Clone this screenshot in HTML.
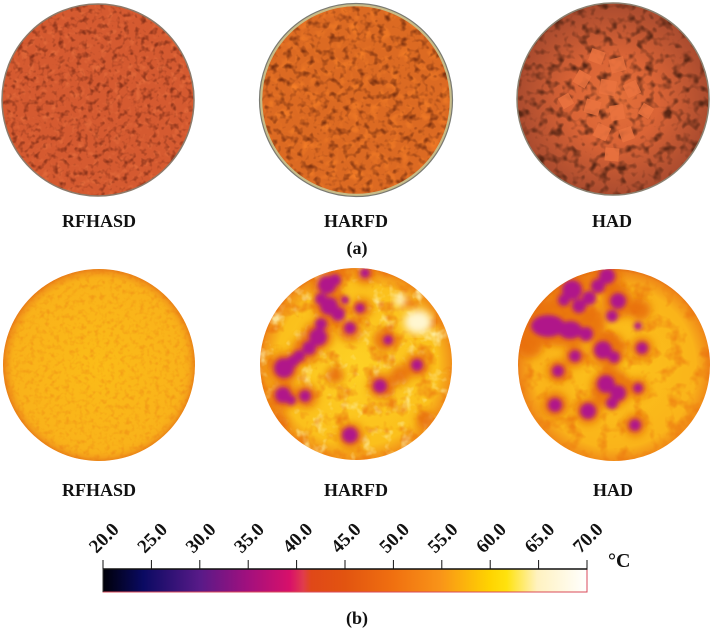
<!DOCTYPE html>
<html><head><meta charset="utf-8"><style>
html,body{margin:0;padding:0;background:#fff;}
svg{display:block;}
text{font-family:"Liberation Serif",serif;font-weight:bold;fill:#111;}
</style></head><body>
<svg width="713" height="632" viewBox="0 0 713 632" xmlns="http://www.w3.org/2000/svg">
<defs>
  <clipPath id="cA1"><circle cx="98" cy="100" r="96"/></clipPath>
  <clipPath id="cA2"><circle cx="356" cy="100" r="96"/></clipPath>
  <clipPath id="cA3"><circle cx="613" cy="99" r="96"/></clipPath>
  <clipPath id="cB1"><circle cx="99" cy="365" r="96"/></clipPath>
  <clipPath id="cB2"><circle cx="356" cy="364" r="96"/></clipPath>
  <clipPath id="cB3"><circle cx="614" cy="365" r="96"/></clipPath>

  <filter id="dark1" x="0" y="0" width="100%" height="100%" color-interpolation-filters="sRGB">
    <feTurbulence type="fractalNoise" baseFrequency="0.17" numOctaves="2" seed="4"/>
    <feColorMatrix type="matrix" values="0 0 0 0 0.55  0 0 0 0 0.2  0 0 0 0 0.1  -3.0 0 0 0 1.5"/>
  </filter>
  <filter id="lite1" x="0" y="0" width="100%" height="100%" color-interpolation-filters="sRGB">
    <feTurbulence type="fractalNoise" baseFrequency="0.14" numOctaves="2" seed="9"/>
    <feColorMatrix type="matrix" values="0 0 0 0 0.92  0 0 0 0 0.45  0 0 0 0 0.25  2.2 0 0 0 -1.2"/>
  </filter>
  <filter id="dark2" x="0" y="0" width="100%" height="100%" color-interpolation-filters="sRGB">
    <feTurbulence type="fractalNoise" baseFrequency="0.14" numOctaves="2" seed="7"/>
    <feColorMatrix type="matrix" values="0 0 0 0 0.5  0 0 0 0 0.2  0 0 0 0 0.06  -2.8 0 0 0 1.42"/>
  </filter>
  <filter id="lite2" x="0" y="0" width="100%" height="100%" color-interpolation-filters="sRGB">
    <feTurbulence type="fractalNoise" baseFrequency="0.1" numOctaves="2" seed="12"/>
    <feColorMatrix type="matrix" values="0 0 0 0 0.97  0 0 0 0 0.5  0 0 0 0 0.15  2.4 0 0 0 -1.25"/>
  </filter>
  <filter id="dark3" x="0" y="0" width="100%" height="100%" color-interpolation-filters="sRGB">
    <feTurbulence type="fractalNoise" baseFrequency="0.11" numOctaves="2" seed="21"/>
    <feColorMatrix type="matrix" values="0 0 0 0 0.35  0 0 0 0 0.15  0 0 0 0 0.08  -3.0 0 0 0 1.55"/>
  </filter>
  <filter id="spkT" x="0" y="0" width="100%" height="100%" color-interpolation-filters="sRGB">
    <feTurbulence type="fractalNoise" baseFrequency="0.2" numOctaves="2" seed="5"/>
    <feColorMatrix type="matrix" values="0 0 0 0 0.93  0 0 0 0 0.52  0 0 0 0 0.08  -2.8 0 0 0 1.45"/>
  </filter>
  <filter id="motT" x="0" y="0" width="100%" height="100%" color-interpolation-filters="sRGB">
    <feTurbulence type="fractalNoise" baseFrequency="0.06" numOctaves="3" seed="17"/>
    <feColorMatrix type="matrix" values="0 0 0 0 0.92  0 0 0 0 0.45  0 0 0 0 0.06  -3.2 0 0 0 1.6"/>
  </filter>
  <filter id="whtT" x="0" y="0" width="100%" height="100%" color-interpolation-filters="sRGB">
    <feTurbulence type="fractalNoise" baseFrequency="0.07" numOctaves="3" seed="33"/>
    <feColorMatrix type="matrix" values="0 0 0 0 1  0 0 0 0 0.96  0 0 0 0 0.7  3.2 0 0 0 -1.75"/>
  </filter>
  <filter id="blur2"><feGaussianBlur stdDeviation="2"/></filter>
  <filter id="blur4"><feGaussianBlur stdDeviation="4"/></filter>

  <radialGradient id="gA3" cx="0.5" cy="0.5" r="0.5">
    <stop offset="0" stop-color="#e4703a"/>
    <stop offset="0.45" stop-color="#da6436"/>
    <stop offset="1" stop-color="#a84a2e"/>
  </radialGradient>
  <radialGradient id="gB1" cx="0.5" cy="0.5" r="0.5">
    <stop offset="0" stop-color="#fbbc18"/>
    <stop offset="0.88" stop-color="#f9b21a"/>
    <stop offset="0.965" stop-color="#f0901a"/>
    <stop offset="1" stop-color="#d85c12"/>
  </radialGradient>
  <radialGradient id="gB2" cx="0.5" cy="0.5" r="0.5">
    <stop offset="0" stop-color="#fdd024"/>
    <stop offset="0.8" stop-color="#fbc01c"/>
    <stop offset="0.94" stop-color="#f19018"/>
    <stop offset="1" stop-color="#dc5c10"/>
  </radialGradient>
  <radialGradient id="gB3" cx="0.5" cy="0.5" r="0.5">
    <stop offset="0" stop-color="#fcc41c"/>
    <stop offset="0.8" stop-color="#fab41a"/>
    <stop offset="0.94" stop-color="#f08a18"/>
    <stop offset="1" stop-color="#d85a12"/>
  </radialGradient>
  <linearGradient id="cbar" x1="0" x2="1" y1="0" y2="0">
    <stop offset="0" stop-color="#000008"/>
    <stop offset="0.083" stop-color="#0a0a62"/>
    <stop offset="0.2" stop-color="#581a88"/>
    <stop offset="0.297" stop-color="#a0107e"/>
    <stop offset="0.386" stop-color="#d8106a"/>
    <stop offset="0.414" stop-color="#e03c4c"/>
    <stop offset="0.43" stop-color="#e04818"/>
    <stop offset="0.5" stop-color="#e25410"/>
    <stop offset="0.6" stop-color="#f07010"/>
    <stop offset="0.697" stop-color="#f99418"/>
    <stop offset="0.8" stop-color="#ffd400"/>
    <stop offset="0.834" stop-color="#ffe20e"/>
    <stop offset="0.897" stop-color="#fff2c0"/>
    <stop offset="1" stop-color="#ffffff"/>
  </linearGradient>
</defs>

<!-- (a) photos -->
<g clip-path="url(#cA1)">
  <rect x="0" y="2" width="196" height="198" fill="#d55a30"/>
  <rect x="0" y="2" width="196" height="198" filter="url(#lite1)"/>
  <rect x="0" y="2" width="196" height="198" filter="url(#dark1)"/>
</g>
<circle cx="98" cy="100" r="96" fill="none" stroke="#8c7a6a" stroke-width="1.5"/>

<g clip-path="url(#cA2)">
  <rect x="258" y="2" width="198" height="198" fill="#dc6a22"/>
  <rect x="258" y="2" width="198" height="198" filter="url(#lite2)"/>
  <rect x="258" y="2" width="198" height="198" filter="url(#dark2)"/>
</g>
<circle cx="356" cy="100" r="95" fill="none" stroke="#c8bc88" stroke-width="2.5"/>
<circle cx="356" cy="100" r="96.5" fill="none" stroke="#7a7a72" stroke-width="1.2"/>

<g clip-path="url(#cA3)">
  <rect x="515" y="2" width="198" height="196" fill="url(#gA3)"/>
  <rect x="515" y="2" width="198" height="196" filter="url(#dark3)"/>
  <g fill="#ea7440" opacity="0.85">
    <rect x="590" y="50" width="14" height="13" transform="rotate(20 597 56)"/>
    <rect x="610" y="58" width="15" height="14" transform="rotate(-15 617 65)"/>
    <rect x="575" y="72" width="14" height="14" transform="rotate(30 582 79)"/>
    <rect x="600" y="80" width="16" height="15" transform="rotate(10 608 87)"/>
    <rect x="625" y="82" width="14" height="14" transform="rotate(-25 632 89)"/>
    <rect x="585" y="100" width="15" height="14" transform="rotate(15 592 107)"/>
    <rect x="610" y="105" width="14" height="15" transform="rotate(-10 617 112)"/>
    <rect x="595" y="125" width="14" height="14" transform="rotate(25 602 132)"/>
    <rect x="620" y="128" width="13" height="13" transform="rotate(-20 626 134)"/>
    <rect x="605" y="148" width="14" height="13" transform="rotate(5 612 154)"/>
    <rect x="560" y="95" width="12" height="12" transform="rotate(-30 566 101)"/>
    <rect x="640" y="105" width="12" height="12" transform="rotate(30 646 111)"/>
  </g>
</g>
<circle cx="613" cy="99" r="96" fill="none" stroke="#8a8070" stroke-width="1.5"/>

<text x="99" y="227" font-size="18" text-anchor="middle">RFHASD</text>
<text x="356" y="227" font-size="18" text-anchor="middle">HARFD</text>
<text x="612" y="227" font-size="18" text-anchor="middle">HAD</text>
<text x="357" y="254" font-size="18" text-anchor="middle">(a)</text>

<!-- (b) thermal -->
<g clip-path="url(#cB1)">
  <rect x="0" y="266" width="200" height="200" fill="url(#gB1)"/>
  <rect x="0" y="266" width="200" height="200" filter="url(#spkT)" opacity="0.7"/>
  <circle cx="99" cy="365" r="96" fill="url(#gB1)" opacity="0.3"/>
</g>

<g clip-path="url(#cB2)">
  <rect x="256" y="264" width="202" height="202" fill="url(#gB2)"/>
  <rect x="256" y="264" width="202" height="202" filter="url(#whtT)" opacity="0.8"/>
  <rect x="256" y="264" width="202" height="202" filter="url(#motT)" opacity="0.75"/>
  <g filter="url(#blur4)" fill="#fff6d0">
    <ellipse cx="418" cy="322" rx="14" ry="12"/>
    <circle cx="400" cy="300" r="6"/>
  </g>
  <g filter="url(#blur4)" fill="#e8700e" opacity="0.9">
    <circle cx="327" cy="287" r="15"/>
    <circle cx="330" cy="308" r="16"/>
    <circle cx="318" cy="336" r="15"/>
    <circle cx="306" cy="350" r="14"/>
    <circle cx="284" cy="368" r="16"/>
    <circle cx="283" cy="396" r="14"/>
    <circle cx="306" cy="396" r="12"/>
    <circle cx="350" cy="330" r="12"/>
    <circle cx="351" cy="436" r="13"/>
    <circle cx="381" cy="386" r="13"/>
    <circle cx="362" cy="308" r="10"/>
    <circle cx="385" cy="340" r="12"/>
    <circle cx="417" cy="365" r="12"/>
    <circle cx="400" cy="375" r="10"/>
    <circle cx="275" cy="425" r="13"/>
    <circle cx="365" cy="275" r="9"/>
    <circle cx="335" cy="375" r="9"/>
    <circle cx="425" cy="420" r="9"/>
  </g>
  <g filter="url(#blur2)" fill="#b0128a">
    <circle cx="327" cy="285" r="9"/>
    <circle cx="335" cy="280" r="6"/>
    <circle cx="321" cy="299" r="6"/>
    <circle cx="329" cy="306" r="9"/>
    <circle cx="338" cy="314" r="7"/>
    <circle cx="321" cy="324" r="6"/>
    <circle cx="318" cy="337" r="9"/>
    <circle cx="309" cy="348" r="7"/>
    <circle cx="299" cy="356" r="6"/>
    <circle cx="284" cy="368" r="10"/>
    <circle cx="293" cy="361" r="6"/>
    <circle cx="283" cy="395" r="8"/>
    <circle cx="291" cy="400" r="5"/>
    <circle cx="305" cy="396" r="6"/>
    <circle cx="350" cy="328" r="6"/>
    <circle cx="350" cy="435" r="8"/>
    <circle cx="380" cy="386" r="7"/>
    <circle cx="360" cy="308" r="5"/>
    <circle cx="417" cy="365" r="6"/>
    <circle cx="365" cy="273" r="5"/>
    <circle cx="388" cy="340" r="5"/>
    <circle cx="345" cy="300" r="4"/>
  </g>
</g>

<g clip-path="url(#cB3)">
  <rect x="514" y="266" width="202" height="202" fill="url(#gB3)"/>
  <rect x="514" y="266" width="202" height="202" filter="url(#motT)" opacity="0.7"/>
  <g filter="url(#blur4)" fill="#e8700e" opacity="0.9">
    <ellipse cx="562" cy="322" rx="44" ry="24"/>
    <circle cx="572" cy="290" r="18"/>
    <circle cx="605" cy="278" r="16"/>
    <circle cx="618" cy="302" r="16"/>
    <circle cx="608" cy="350" r="18"/>
    <circle cx="611" cy="388" r="20"/>
    <circle cx="558" cy="371" r="11"/>
    <circle cx="555" cy="405" r="13"/>
    <circle cx="588" cy="411" r="13"/>
    <circle cx="635" cy="425" r="11"/>
    <circle cx="642" cy="348" r="11"/>
    <circle cx="638" cy="388" r="10"/>
    <circle cx="575" cy="356" r="11"/>
    <circle cx="530" cy="345" r="13"/>
    <circle cx="640" cy="310" r="11"/>
  </g>
  <g filter="url(#blur2)" fill="#b0128a">
    <ellipse cx="548" cy="326" rx="17" ry="11"/>
    <ellipse cx="570" cy="330" rx="12" ry="9"/>
    <circle cx="586" cy="334" r="7"/>
    <circle cx="572" cy="290" r="10"/>
    <circle cx="564" cy="300" r="6"/>
    <circle cx="579" cy="306" r="7"/>
    <circle cx="589" cy="298" r="7"/>
    <circle cx="598" cy="286" r="7"/>
    <circle cx="607" cy="276" r="8"/>
    <circle cx="618" cy="301" r="8"/>
    <circle cx="612" cy="316" r="6"/>
    <circle cx="603" cy="350" r="9"/>
    <circle cx="614" cy="357" r="6"/>
    <circle cx="606" cy="384" r="9"/>
    <circle cx="618" cy="393" r="8"/>
    <circle cx="612" cy="403" r="6"/>
    <circle cx="558" cy="371" r="6"/>
    <circle cx="555" cy="405" r="7"/>
    <circle cx="588" cy="411" r="8"/>
    <circle cx="635" cy="425" r="6"/>
    <circle cx="642" cy="348" r="6"/>
    <circle cx="638" cy="388" r="5"/>
    <circle cx="575" cy="356" r="6"/>
    <circle cx="638" cy="326" r="4"/>
  </g>
</g>

<text x="99" y="496" font-size="18" text-anchor="middle">RFHASD</text>
<text x="356" y="496" font-size="18" text-anchor="middle">HARFD</text>
<text x="613" y="496" font-size="18" text-anchor="middle">HAD</text>

<!-- colorbar -->
<rect x="103" y="569" width="484" height="23" fill="url(#cbar)" stroke="#d84a58" stroke-width="1"/>
<line x1="102.5" y1="569" x2="587.5" y2="569" stroke="#111" stroke-width="1.5"/>
<line x1="103" y1="569" x2="103" y2="592" stroke="#333" stroke-width="1"/>
<g stroke="#111" stroke-width="1">
  <line x1="103" y1="560" x2="103" y2="569"/>
  <line x1="151.4" y1="560" x2="151.4" y2="569"/>
  <line x1="199.8" y1="560" x2="199.8" y2="569"/>
  <line x1="248.2" y1="560" x2="248.2" y2="569"/>
  <line x1="296.6" y1="560" x2="296.6" y2="569"/>
  <line x1="345" y1="560" x2="345" y2="569"/>
  <line x1="393.4" y1="560" x2="393.4" y2="569"/>
  <line x1="441.8" y1="560" x2="441.8" y2="569"/>
  <line x1="490.2" y1="560" x2="490.2" y2="569"/>
  <line x1="538.6" y1="560" x2="538.6" y2="569"/>
  <line x1="587" y1="560" x2="587" y2="569"/>
</g>
<g font-size="19" text-anchor="middle">
  <text x="104" y="544" transform="rotate(-45 104 538)">20.0</text>
  <text x="152.4" y="544" transform="rotate(-45 152.4 538)">25.0</text>
  <text x="200.8" y="544" transform="rotate(-45 200.8 538)">30.0</text>
  <text x="249.2" y="544" transform="rotate(-45 249.2 538)">35.0</text>
  <text x="297.6" y="544" transform="rotate(-45 297.6 538)">40.0</text>
  <text x="346" y="544" transform="rotate(-45 346 538)">45.0</text>
  <text x="394.4" y="544" transform="rotate(-45 394.4 538)">50.0</text>
  <text x="442.8" y="544" transform="rotate(-45 442.8 538)">55.0</text>
  <text x="491.2" y="544" transform="rotate(-45 491.2 538)">60.0</text>
  <text x="539.6" y="544" transform="rotate(-45 539.6 538)">65.0</text>
  <text x="588" y="544" transform="rotate(-45 588 538)">70.0</text>
</g>
<text x="608" y="567" font-size="20">°C</text>
<text x="357" y="624" font-size="18" text-anchor="middle">(b)</text>
</svg>
</body></html>
